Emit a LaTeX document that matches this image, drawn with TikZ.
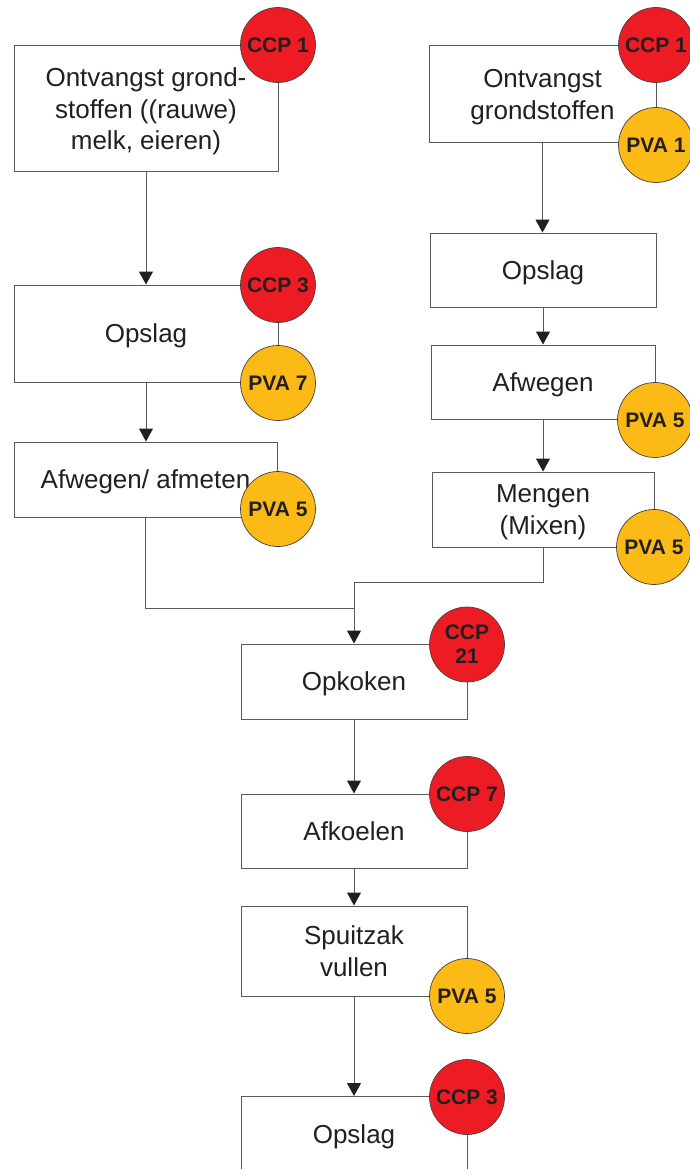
\documentclass[tikz,border=0pt]{standalone}
\usepackage{fontspec}
\setmainfont{Liberation Sans}
\usetikzlibrary{arrows.meta}
\definecolor{ccpred}{HTML}{ED1C24}
\definecolor{pvayellow}{HTML}{FBBA16}
\definecolor{ink}{HTML}{231F20}
\definecolor{frame}{HTML}{58595B}
\begin{document}
\begin{tikzpicture}[x=1pt,y=-1pt,
  stepbox/.style={draw=frame, line width=1pt, fill=white, inner sep=0pt,
    align=center, text=ink, text depth=0pt, font=\fontsize{26}{31.5}\selectfont},
  flow/.style={draw=frame, line width=1pt,
    -{Triangle[width=14pt,length=13pt,fill=ink,color=ink]}},
  link/.style={draw=frame, line width=1pt},
  ccp/.style={circle, draw=ink!85, line width=0.7pt, fill=ccpred,
    minimum size=75pt, inner sep=0pt, align=center, text=ink,
    font=\fontsize{21}{24}\selectfont\bfseries},
  pva/.style={ccp, fill=pvayellow}]
\useasboundingbox (0,0) rectangle (689,1169);

% process steps, left column
\node[stepbox, minimum width=264pt, minimum height=126pt] (ontvL) at (146,109)
  {Ontvangst grond-\\stoffen ((rauwe)\\melk, eieren)};
\node[stepbox, minimum width=264pt, minimum height=97pt] (opslagL) at (146,333.5) {Opslag};
\node[stepbox, minimum width=263pt, minimum height=75pt] (afmeten) at (145.5,479.5) {Afwegen/ afmeten};

% process steps, right column
\node[stepbox, minimum width=227pt, minimum height=97pt] (ontvR) at (542.5,94.5)
  {Ontvangst\\grondstoffen};
\node[stepbox, minimum width=226pt, minimum height=74pt] (opslagR) at (543,270) {Opslag};
\node[stepbox, minimum width=224pt, minimum height=74pt] (afwegen) at (543,382) {Afwegen};
\node[stepbox, minimum width=222pt, minimum height=75pt] (mengen) at (543,509.5) {Mengen\\(Mixen)};

% process steps, common column
\node[stepbox, minimum width=226pt, minimum height=75pt] (opkoken) at (354,681.5) {Opkoken};
\node[stepbox, minimum width=226pt, minimum height=74pt] (afkoelen) at (354,831) {Afkoelen};
\node[stepbox, minimum width=226pt, minimum height=90pt] (spuitzak) at (354,951) {Spuitzak\\vullen};
\node[stepbox, minimum width=226pt, minimum height=75pt] (opslagE) at (354,1134) {Opslag};

% connectors
\draw[flow] (ontvL.south) -- (ontvL.south |- opslagL.north);
\draw[flow] (opslagL.south) -- (opslagL.south |- afmeten.north);
\draw[flow] (ontvR.south) -- (ontvR.south |- opslagR.north);
\draw[flow] (opslagR.south) -- (opslagR.south |- afwegen.north);
\draw[flow] (afwegen.south) -- (afwegen.south |- mengen.north);

\coordinate (joinR) at (354,582);
\coordinate (joinL) at (354,608);
\draw[link] (afmeten.south) |- (joinL);
\draw[link] (mengen.south) |- (joinR);
\draw[flow] (joinR) -- (opkoken.north);

\draw[flow] (opkoken.south) -- (afkoelen.north);
\draw[flow] (afkoelen.south) -- (spuitzak.north);
\draw[flow] (spuitzak.south) -- (opslagE.north);

% control points
\node[ccp] (ccpA) at (278,45) {CCP 1};
\node[ccp] (ccpB) at (656,45) {CCP 1};
\node[pva] (pvaA) at (656,145) {PVA 1};
\node[ccp] (ccpC) at (278,285) {CCP 3};
\node[pva] (pvaB) at (278,383) {PVA 7};
\node[pva] (pvaC) at (278,509) {PVA 5};
\node[pva] (pvaD) at (655,420) {PVA 5};
\node[pva] (pvaE) at (654,547) {PVA 5};
\node[ccp] (ccpD) at (467,644.5) {CCP\\21};
\node[ccp] (ccpE) at (467,794) {CCP 7};
\node[pva] (pvaF) at (467,996) {PVA 5};
\node[ccp] (ccpF) at (467,1097) {CCP 3};
\end{tikzpicture}
\end{document}
